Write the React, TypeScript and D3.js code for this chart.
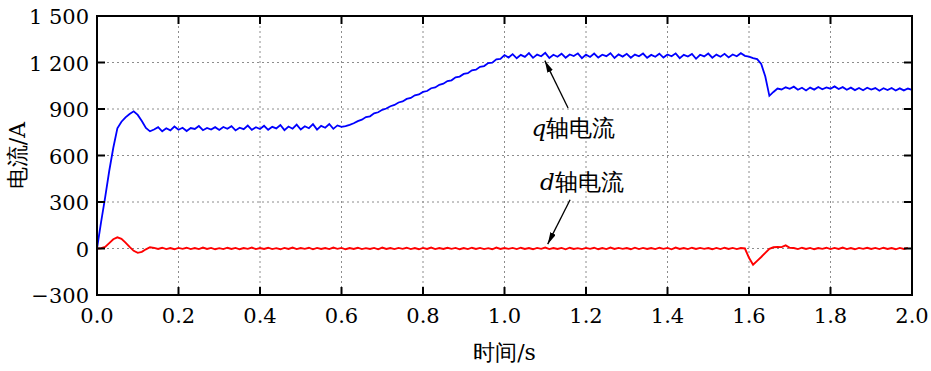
import React, { useEffect, useRef } from 'react';
import * as d3 from 'd3';

// sample time step of both traces, in seconds (index * step)
const timeStep = 0.01;

// q-axis current, A, one value every 0.01 s from 0.00 to 2.00 s
const qCurrent = [
  0, 170, 330, 500, 650, 775, 818, 846, 868, 885, 862, 822, 778, 756,
  768, 783, 756, 776, 762, 787, 766, 779, 758, 777,
  771, 790, 763, 778, 767, 783, 765, 784, 772, 789,
  762, 779, 770, 793, 766, 782, 771, 792, 766, 785,
  775, 797, 764, 787, 773, 799, 768, 789, 776, 802,
  767, 791, 779, 803, 772, 794, 785,
  790, 798, 808, 822, 831, 848, 853, 872, 879, 895,
  903, 918, 926, 942, 949, 965, 971, 988, 994, 1010,
  1016, 1034, 1039, 1056, 1063, 1080, 1085, 1104, 1109, 1126,
  1131, 1150, 1154, 1172, 1177, 1196, 1199, 1220, 1223, 1248,
  1232, 1254, 1227, 1249, 1236, 1261, 1230, 1251, 1240, 1262,
  1229, 1250, 1237, 1257, 1231, 1252, 1242, 1259, 1228, 1251,
  1236, 1258, 1232, 1250, 1241, 1260, 1229, 1252, 1238, 1256,
  1231, 1251, 1240, 1258, 1230, 1249, 1237, 1257, 1232, 1252,
  1240, 1259, 1228, 1249, 1238, 1255, 1224, 1250, 1239, 1258,
  1231, 1251, 1237, 1256, 1233, 1252, 1240, 1260, 1243, 1238,
  1228, 1222, 1190, 1110, 985, 1010, 1032, 1026, 1040, 1030,
  1044, 1024, 1037, 1020, 1038, 1025, 1042, 1027, 1039, 1031,
  1046, 1029, 1041, 1024, 1038, 1022, 1036, 1021, 1037, 1025,
  1035, 1018, 1034, 1022, 1036, 1019, 1033, 1020, 1032, 1024,
];

// d-axis current, A, same sampling
const dCurrent = [
  0, 2, 10, 35, 60, 72, 62, 38, 10, -15, -28, -22, -5, 8,
  4, -3, 5, -4, 3, -5, 4, -2, 5, -4,
  3, -4, 6, -3, 4, -5, 2, -4, 5, -3,
  4, -5, 3, -2, 6, -4, 3, -3, 5, -4,
  2, -5, 4, -3, 6, -4, 3, -2, 5, -5,
  4, -3, 3, -4, 6, -2, 4, -5, 3, -3,
  5, -4, 2, -3, 4, -5, 6, -3, 3, -4,
  4, -2, 5, -4, 3, -5, 4, -3, 6, -4,
  3, -3, 5, -2, 4, -5, 3, -4, 5, -3,
  4, -4, 2, -5, 6, -3, 3, -2, 4, -4,
  5, -3, 3, -5, 4, -2, 6, -4, 3, -3,
  4, -5, 5, -3, 2, -4, 4, -2, 5, -5,
  3, -4, 6, -3, 4, -2, 3, -5, 5, -4,
  4, -3, 3, -4, 5, -2, 4, -5, 6, -3,
  3, -4, 5, -3, 4, -2, 3, -5, 4, -4,
  5, -3, 4, -4, 3, 0,
  -60, -105, -80, -55, -28, -2, 8, 10, 9, 20, 4,
  3, -4, 5, -3, 4, -5, 3, -2, 5, -4,
  4, -3, 6, -4, 3, -5, 4, -2, 5, -3,
  4, -4, 5, -3, 3, -5, 4, -3, 4,
];

const xTicks = [0, 0.2, 0.4, 0.6, 0.8, 1.0, 1.2, 1.4, 1.6, 1.8, 2.0];
const yTicks = [-300, 0, 300, 600, 900, 1200, 1500];
const yTickLabels = ['\u2212300', '0', '300', '600', '900', '1 200', '1 500'];

// annotation text anchor and arrow (tail -> tip), in data units
const annotations = [
  { letter: 'q', text: '轴电流', at: [1.066, 727], from: [1.156, 906], to: [1.099, 1212] },
  { letter: 'd', text: '轴电流', at: [1.087, 378], from: [1.161, 314], to: [1.106, 28] },
];

const serif = "'DejaVu Serif', serif";

const CurrentChart = () => {
  const ref = useRef<SVGSVGElement>(null);
  const width = 931;
  const height = 371;
  const margin = { top: 16, right: 19, bottom: 76, left: 97 };

  useEffect(() => {
    const svg = d3.select(ref.current);
    svg.selectAll('*').remove();

    const x = d3
      .scaleLinear()
      .domain([0, 2])
      .range([margin.left, width - margin.right]);
    const y = d3
      .scaleLinear()
      .domain([-300, 1500])
      .range([height - margin.bottom, margin.top]);

    const left = margin.left;
    const right = width - margin.right;
    const top = margin.top;
    const bottom = height - margin.bottom;

    // dotted grid
    const grid = svg.append('g').attr('stroke', '#8c8c8c').attr('stroke-width', 1).attr('stroke-dasharray', '2,3');
    xTicks.slice(1, -1).forEach((t) => {
      grid.append('line').attr('x1', x(t)).attr('x2', x(t)).attr('y1', top).attr('y2', bottom);
    });
    yTicks.slice(1, -1).forEach((v) => {
      grid.append('line').attr('x1', left).attr('x2', right).attr('y1', y(v)).attr('y2', y(v));
    });

    const line = d3
      .line<number>()
      .x((d, i) => x(i * timeStep))
      .y((d) => y(d));

    svg
      .append('path')
      .datum(qCurrent)
      .attr('fill', 'none')
      .attr('stroke', '#0000ff')
      .attr('stroke-width', 1.8)
      .attr('d', line);

    svg
      .append('path')
      .datum(dCurrent)
      .attr('fill', 'none')
      .attr('stroke', '#ff0000')
      .attr('stroke-width', 1.9)
      .attr('d', line);

    // frame and inward ticks
    svg
      .append('rect')
      .attr('x', left)
      .attr('y', top)
      .attr('width', right - left)
      .attr('height', bottom - top)
      .attr('fill', 'none')
      .attr('stroke', '#000')
      .attr('stroke-width', 2);

    const ticks = svg.append('g').attr('stroke', '#000').attr('stroke-width', 2);
    const tickLen = 8;
    xTicks.slice(1, -1).forEach((t) => {
      ticks.append('line').attr('x1', x(t)).attr('x2', x(t)).attr('y1', bottom).attr('y2', bottom - tickLen);
      ticks.append('line').attr('x1', x(t)).attr('x2', x(t)).attr('y1', top).attr('y2', top + tickLen);
    });
    yTicks.slice(1, -1).forEach((v) => {
      ticks.append('line').attr('x1', left).attr('x2', left + tickLen).attr('y1', y(v)).attr('y2', y(v));
      ticks.append('line').attr('x1', right).attr('x2', right - tickLen).attr('y1', y(v)).attr('y2', y(v));
    });

    const txt = svg.append('g').style('font-family', serif).style('font-size', '21px');

    // tick labels
    xTicks.forEach((t) => {
      txt
        .append('text')
        .attr('x', x(t))
        .attr('y', bottom + 28)
        .attr('text-anchor', 'middle')
        .text(d3.format('.1f')(t));
    });
    yTicks.forEach((v, i) => {
      txt
        .append('text')
        .attr('x', left - 8)
        .attr('y', y(v) + 8)
        .attr('text-anchor', 'end')
        .text(yTickLabels[i]);
    });

    // axis titles
    txt
      .append('text')
      .attr('x', (left + right) / 2)
      .attr('y', height - 11)
      .attr('text-anchor', 'middle')
      .style('font-size', '22px')
      .text('时间/s');

    txt
      .append('text')
      .attr('transform', `translate(25, ${(top + bottom) / 2}) rotate(-90)`)
      .attr('text-anchor', 'middle')
      .style('font-size', '22px')
      .text('电流/A');

    // arrow annotations
    const defs = svg.append('defs');
    defs
      .append('marker')
      .attr('id', 'arrowhead')
      .attr('viewBox', '0 0 12 6')
      .attr('refX', 12)
      .attr('refY', 3)
      .attr('markerWidth', 12)
      .attr('markerHeight', 6)
      .attr('markerUnits', 'userSpaceOnUse')
      .attr('orient', 'auto')
      .append('path')
      .attr('d', 'M0,0 L12,3 L0,6 Z')
      .attr('fill', '#000');

    annotations.forEach((a) => {
      svg
        .append('line')
        .attr('x1', x(a.from[0]))
        .attr('y1', y(a.from[1]))
        .attr('x2', x(a.to[0]))
        .attr('y2', y(a.to[1]))
        .attr('stroke', '#000')
        .attr('stroke-width', 1.3)
        .attr('marker-end', 'url(#arrowhead)');

      const label = txt
        .append('text')
        .attr('x', x(a.at[0]))
        .attr('y', y(a.at[1]))
        .style('font-size', '23px');
      label.append('tspan').style('font-style', 'italic').text(a.letter);
      label.append('tspan').text(a.text);
    });
  }, []);

  return (
    <svg
      ref={ref}
      width={width}
      height={height}
      style={{ position: 'absolute', left: 0, top: 0, background: '#fff' }}
    />
  );
};

export default function App() {
  return <CurrentChart />;
}
